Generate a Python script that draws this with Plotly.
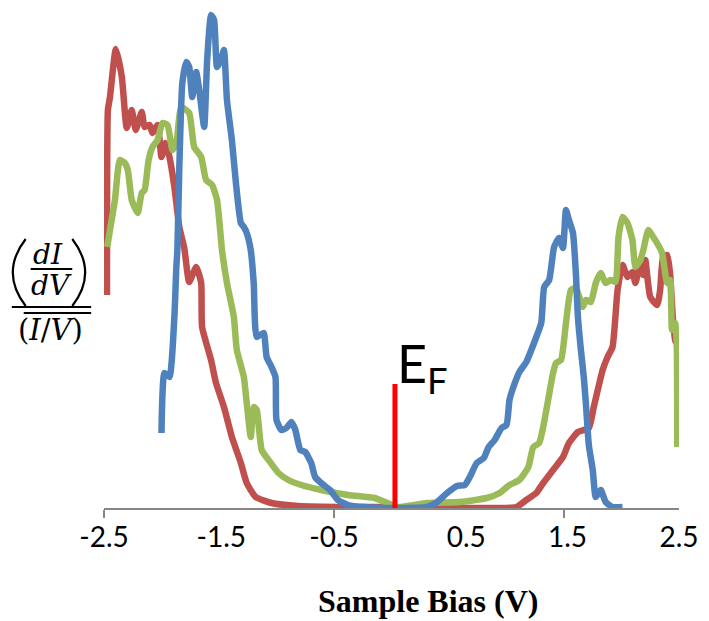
import plotly.graph_objects as go

# ---------------- data ----------------
red_v = [-2.474, -2.474, -2.466, -2.448, -2.397, -2.345, -2.302, -2.259, -2.224, -2.172, -2.147,
         -2.103, -2.078, -2.034, -2.000, -1.966, -1.931, -1.888, -1.845, -1.802, -1.759, -1.698,
         -1.655, -1.647, -1.569, -1.526, -1.457, -1.388, -1.310, -1.259, -1.181, -1.043, -0.810,
         -0.379, -0.034, 0.224, 0.457, 0.741, 1.086, 1.172, 1.259, 1.319, 1.405, 1.491, 1.543,
         1.621, 1.716, 1.759, 1.836, 1.879, 1.922, 1.966, 2.009, 2.052, 2.095, 2.121, 2.164,
         2.190, 2.207, 2.250, 2.310, 2.336, 2.362, 2.397, 2.422, 2.448, 2.470, 2.488]
red_g = [2.13, 2.68, 3.98, 4.11, 4.59, 4.31, 3.80, 3.98, 3.78, 3.96, 3.81,
         3.83, 3.75, 3.83, 3.51, 3.65, 3.51, 3.21, 2.81, 2.60, 2.26, 2.41,
         2.25, 1.81, 1.48, 1.25, 1.01, 0.71, 0.45, 0.25, 0.11, 0.05, 0.02,
         0.01, 0.01, 0.00, 0.00, 0.00, 0.01, 0.08, 0.15, 0.25, 0.38, 0.51, 0.65,
         0.76, 0.80, 1.01, 1.38, 1.51, 1.61, 2.18, 2.43, 2.31, 2.36, 2.25, 2.45,
         2.33, 2.48, 2.11, 2.03, 2.18, 2.51, 2.53, 2.35, 1.88, 1.66, 1.71]

green_v = [-2.472, -2.448, -2.405, -2.362, -2.319, -2.293, -2.259, -2.207, -2.172, -2.147, -2.112,
           -2.078, -2.034, -1.991, -1.948, -1.905, -1.871, -1.828, -1.759, -1.716, -1.655, -1.612,
           -1.560, -1.517, -1.474, -1.431, -1.371, -1.345, -1.284, -1.259, -1.224, -1.198, -1.172,
           -1.129, -1.069, -0.983, -0.897, -0.784, -0.612, -0.379, -0.147, -0.034, 0.052, 0.310,
           0.595, 0.828, 0.940, 1.026, 1.112, 1.190, 1.233, 1.284, 1.319, 1.362, 1.405, 1.431,
           1.474, 1.517, 1.560, 1.603, 1.664, 1.690, 1.733, 1.776, 1.819, 1.862, 1.905, 1.948,
           1.974, 2.009, 2.052, 2.095, 2.121, 2.164, 2.190, 2.233, 2.276, 2.319, 2.353, 2.397,
           2.422, 2.440, 2.466, 2.480, 2.485]
green_g = [2.61, 2.78, 3.08, 3.48, 3.45, 3.38, 3.08, 2.95, 3.15, 3.18, 3.48,
           3.61, 3.68, 3.85, 3.83, 3.58, 3.65, 4.01, 3.95, 3.61, 3.51, 3.28,
           3.23, 3.08, 2.58, 2.25, 1.91, 1.58, 1.31, 1.05, 0.71, 1.01, 0.98,
           0.58, 0.48, 0.35, 0.28, 0.23, 0.18, 0.13, 0.10, 0.05, 0.01, 0.05,
           0.06, 0.10, 0.15, 0.23, 0.28, 0.41, 0.61, 0.65, 0.81, 1.08, 1.35, 1.45,
           1.48, 1.85, 2.18, 2.20, 2.01, 2.08, 2.06, 2.25, 2.35, 2.25, 2.28, 2.26,
           2.71, 2.91, 2.85, 2.68, 2.41, 2.48, 2.58, 2.78, 2.71, 2.63, 2.55, 2.25,
           2.28, 1.78, 1.85, 1.65, 0.61]

blue_v = [-2.000, -1.974, -1.931, -1.888, -1.871, -1.862, -1.845, -1.819, -1.784, -1.759, -1.733,
          -1.698, -1.672, -1.629, -1.603, -1.569, -1.543, -1.517, -1.483, -1.457, -1.431, -1.388,
          -1.353, -1.310, -1.284, -1.259, -1.224, -1.198, -1.172, -1.112, -1.086, -1.043, -1.009,
          -1.000, -0.957, -0.914, -0.871, -0.836, -0.793, -0.750, -0.698, -0.664, -0.612, -0.534,
          -0.466, -0.379, -0.233, 0.052, 0.310, 0.397, 0.483, 0.569, 0.638, 0.681, 0.741,
          0.802, 0.845, 0.897, 0.957, 1.000, 1.026, 1.060, 1.112, 1.172, 1.259, 1.302,
          1.328, 1.371, 1.414, 1.457, 1.491, 1.517, 1.543, 1.578, 1.603, 1.621, 1.647,
          1.672, 1.690, 1.716, 1.750, 1.776, 1.819, 1.862, 1.922, 2.009]
blue_g = [0.75, 1.35, 1.31, 1.91, 2.41, 2.58, 3.41, 4.25, 4.46, 4.41, 4.11,
          4.36, 4.18, 3.81, 4.48, 4.93, 4.88, 4.41, 4.48, 4.58, 4.08, 3.68,
          3.25, 2.85, 2.81, 2.75, 2.58, 2.25, 1.71, 1.75, 1.51, 1.41, 1.31,
          0.88, 0.78, 0.80, 0.86, 0.78, 0.58, 0.56, 0.45, 0.31, 0.25, 0.18,
          0.08, 0.03, 0.01, 0.00, 0.01, 0.06, 0.15, 0.22, 0.23, 0.31, 0.45,
          0.50, 0.61, 0.68, 0.80, 0.83, 1.08, 1.21, 1.36, 1.46, 1.71, 1.85,
          2.21, 2.28, 2.61, 2.70, 2.60, 2.98, 2.88, 2.75, 2.35, 1.91, 1.58,
          1.31, 1.05, 0.63, 0.38, 0.11, 0.18, 0.06, 0.01, 0.01]

fermi_level = 0.03
fermi_marker_top = 1.24

tick_mark_values = [-2.5, -0.5, 1.5]
tick_label_values = [-2.5, -1.48, -0.5, 0.65, 1.53, 2.5]
tick_labels = ["-2.5", "-1.5", "-0.5", "0.5", "1.5", "2.5"]

x_title = "Sample Bias (V)"

# ---------------- layout helpers ----------------
W_FIG, H_FIG = 709, 621
L, R, T, B = 104, 25, 10, 113
PW = W_FIG - L - R
PH = H_FIG - T - B
BOTTOM = H_FIG - B


def px(x):
    return (x - L) / PW


def py(y):
    return (BOTTOM - y) / PH


RED = "#C0504D"
GREEN = "#9BBB59"
BLUE = "#4F81BD"
AXIS = "#878787"

fig = go.Figure()
for xs, ys, col in [(red_v, red_g, RED), (green_v, green_g, GREEN), (blue_v, blue_g, BLUE)]:
    fig.add_trace(go.Scatter(x=xs, y=ys, mode="lines",
                             line=dict(color=col, width=6.5, shape="spline", smoothing=0.5),
                             showlegend=False, hoverinfo="skip"))

fig.add_trace(go.Scatter(x=[fermi_level, fermi_level], y=[0, fermi_marker_top], mode="lines",
                         line=dict(color="#FF0000", width=5), xaxis="x2",
                         showlegend=False, hoverinfo="skip"))

fig.update_layout(
    width=W_FIG, height=H_FIG,
    margin=dict(l=L, r=R, t=T, b=B),
    paper_bgcolor="white", plot_bgcolor="white",
    xaxis=dict(range=[-2.5, 2.5], showgrid=False, zeroline=False,
               showline=True, linecolor=AXIS, linewidth=2,
               tickmode="array", tickvals=tick_mark_values, ticks="outside",
               ticklen=8, tickwidth=2, tickcolor=AXIS, showticklabels=False),
    xaxis2=dict(range=[-2.5, 2.5], overlaying="x", anchor="y", side="bottom",
                showgrid=False, zeroline=False, showline=False,
                tickmode="array", tickvals=tick_label_values, ticktext=tick_labels,
                ticks="", ticklabelstandoff=10,
                tickfont=dict(family="Lato", size=28, color="black")),
    yaxis=dict(range=[0, PH / 100.0], visible=False),
)

ann = []
# E_F label
ann.append(dict(xref="paper", yref="paper", x=px(398), y=py(404), xanchor="left", yanchor="bottom",
                text="E<sub>F</sub>", showarrow=False,
                font=dict(family="Lato", size=52, color="black")))
# x title
ann.append(dict(xref="paper", yref="paper", x=px(431), y=py(601), xanchor="center", yanchor="middle",
                text="<b>" + x_title + "</b>", showarrow=False,
                font=dict(family="Liberation Serif", size=32, color="black")))
# y label pieces
serif = "DejaVu Serif"
ann.append(dict(xref="paper", yref="paper", x=px(48), y=py(254), xanchor="center", yanchor="middle",
                text="<i>dI</i>", showarrow=False, font=dict(family=serif, size=28, color="black")))
ann.append(dict(xref="paper", yref="paper", x=px(51), y=py(285), xanchor="center", yanchor="middle",
                text="<i>dV</i>", showarrow=False, font=dict(family=serif, size=28, color="black")))
ann.append(dict(xref="paper", yref="paper", x=px(50), y=py(330), xanchor="center", yanchor="middle",
                text="(<i>I</i>/<i>V</i>)", showarrow=False, font=dict(family=serif, size=29, color="black")))

shapes = []
# fraction bars
shapes.append(dict(type="line", xref="paper", yref="paper", x0=px(30), x1=px(72), y0=py(269), y1=py(269),
                   line=dict(color="black", width=2)))
shapes.append(dict(type="line", xref="paper", yref="paper", x0=px(11), x1=px(91), y0=py(307), y1=py(307),
                   line=dict(color="black", width=2)))
shapes.append(dict(type="line", xref="paper", yref="paper", x0=px(23), x1=px(91), y0=py(313), y1=py(313),
                   line=dict(color="black", width=2)))


# big parentheses as paths
def paren(x_end, x_ctrl, y_top, y_bot):
    ym = (y_top + y_bot) / 2
    return (f"M {px(x_end)},{py(y_top)} Q {px(x_ctrl)},{py(ym)} {px(x_end)},{py(y_bot)}")


shapes.append(dict(type="path", xref="paper", yref="paper", path=paren(25, -1, 239, 306),
                   line=dict(color="black", width=2.2)))
shapes.append(dict(type="path", xref="paper", yref="paper", path=paren(72, 98, 239, 306),
                   line=dict(color="black", width=2.2)))

fig.update_layout(annotations=ann, shapes=shapes)

fig.write_html("out.html")
